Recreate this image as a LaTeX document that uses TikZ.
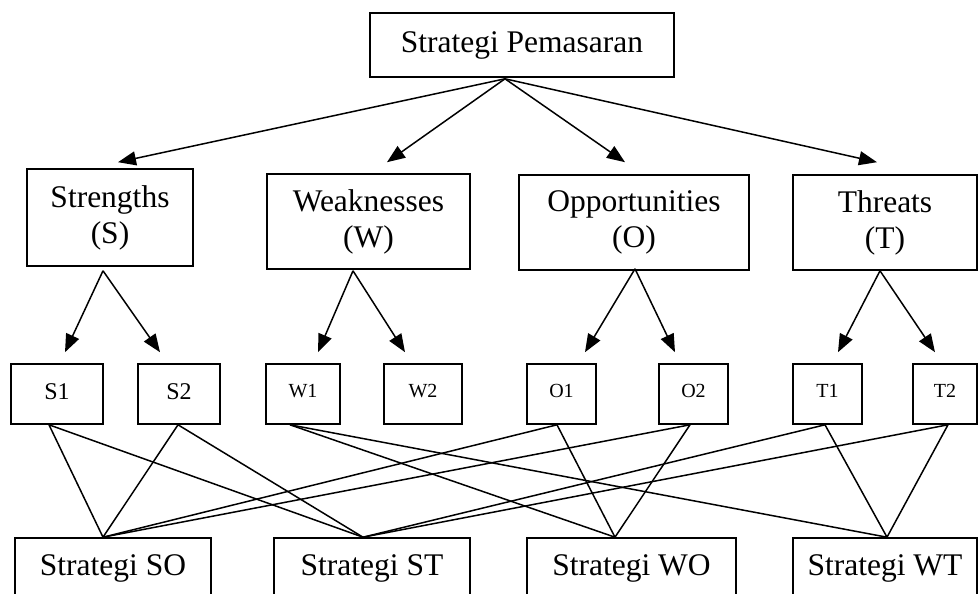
\documentclass[tikz,border=0pt]{standalone}
\usepackage{fontspec}
\setmainfont{Liberation Serif}
\usetikzlibrary{arrows.meta}
\begin{document}
\begin{tikzpicture}[x=1pt,y=-1pt,
  box/.style={draw, line width=1.6pt, rectangle, inner sep=0pt, align=center,
    font=\fontsize{31.5}{36}\selectfont},
  smallbox/.style={draw, line width=1.6pt, rectangle, inner sep=0pt,
    minimum height=60pt, font=\fontsize{20}{24}\selectfont},
  arr/.style={line width=1.5pt, -{Triangle[length=18pt,width=14pt]}},
  link/.style={line width=1.5pt}]
\useasboundingbox (0,0) rectangle (978,594);
% top
\node[box, minimum width=304pt, minimum height=64pt] (top) at (522,45) {Strategi Pemasaran};
% level 2
\node[box, minimum width=166pt, minimum height=97pt] (Sb) at (110,217.5) {Strengths\\(S)};
\node[box, minimum width=203pt, minimum height=95pt] (Wb) at (368.5,221.5) {Weaknesses\\(W)};
\node[box, minimum width=230pt, minimum height=95pt] (Ob) at (634,222.5) {Opportunities\\(O)};
\node[box, minimum width=184pt, minimum height=95pt] (Tb) at (885,222.5) {Threats\\(T)};
% level 3
\node[smallbox, minimum width=92pt, font=\fontsize{24}{28}\selectfont] (S1) at (57,394) {\raisebox{4pt}{S1}};
\node[smallbox, minimum width=82pt, font=\fontsize{24}{28}\selectfont] (S2) at (179,394) {\raisebox{4pt}{S2}};
\node[smallbox, minimum width=74pt] (W1) at (303,394) {\raisebox{6pt}{W1}};
\node[smallbox, minimum width=78pt] (W2) at (423,394) {\raisebox{6pt}{W2}};
\node[smallbox, minimum width=69pt] (O1) at (561.5,394) {\raisebox{6pt}{O1}};
\node[smallbox, minimum width=69pt] (O2) at (693.5,394) {\raisebox{6pt}{O2}};
\node[smallbox, minimum width=69pt] (T1) at (827.5,394) {\raisebox{6pt}{T1}};
\node[smallbox, minimum width=64pt] (T2) at (945,394) {\raisebox{6pt}{T2}};
% bottom (lower edge runs off the picture)
\node[box, minimum width=196pt, minimum height=60pt] (SO) at (113,568) {\raisebox{2pt}{Strategi SO}};
\node[box, minimum width=196pt, minimum height=60pt] (ST) at (372,568) {\raisebox{2pt}{Strategi ST}};
\node[box, minimum width=209pt, minimum height=60pt] (WO) at (631.5,568) {\raisebox{2pt}{Strategi WO}};
\node[box, minimum width=184pt, minimum height=60pt] (WT) at (885,568) {\raisebox{2pt}{Strategi WT}};
% coordinates
\coordinate (apex) at ([xshift=-17pt,yshift=-1pt]top.south);
\coordinate (tS) at ([xshift=8pt,yshift=6pt]Sb.north);
\coordinate (tW) at ([xshift=18.5pt,yshift=11pt]Wb.north);
\coordinate (tO) at ([xshift=-9pt,yshift=12pt]Ob.north);
\coordinate (tT) at ([xshift=-8pt,yshift=12pt]Tb.north);
\coordinate (aS) at ([xshift=-7pt,yshift=-4pt]Sb.south);
\coordinate (aW) at ([xshift=-15.5pt,yshift=-1pt]Wb.south);
\coordinate (aO) at ([xshift=1pt,yshift=2pt]Ob.south);
\coordinate (aT) at ([xshift=-5pt]Tb.south);
\coordinate (tS1) at ([xshift=8pt,yshift=11pt]S1.north);
\coordinate (tS2) at ([xshift=-19pt,yshift=11pt]S2.north);
\coordinate (tW1) at ([xshift=15pt,yshift=11pt]W1.north);
\coordinate (tW2) at ([xshift=-18pt,yshift=11pt]W2.north);
\coordinate (tO1) at ([xshift=23.5pt,yshift=11pt]O1.north);
\coordinate (tO2) at ([xshift=-18.5pt,yshift=11pt]O2.north);
\coordinate (tT1) at ([xshift=10.5pt,yshift=11pt]T1.north);
\coordinate (tT2) at ([xshift=-10pt,yshift=11pt]T2.north);
\coordinate (bS1) at ([xshift=-8pt]S1.south);
\coordinate (bS2) at ([xshift=-1pt]S2.south);
\coordinate (bW1) at ([xshift=-13pt]W1.south);
\coordinate (bO1) at ([xshift=-4.5pt]O1.south);
\coordinate (bO2) at ([xshift=-3.5pt]O2.south);
\coordinate (bT1) at ([xshift=-2.5pt]T1.south);
\coordinate (bT2) at ([xshift=3pt]T2.south);
\coordinate (nSO) at ([xshift=-10pt]SO.north);
\coordinate (nST) at ([xshift=-9pt]ST.north);
\coordinate (nWO) at ([xshift=-16.5pt]WO.north);
\coordinate (nWT) at ([xshift=2pt]WT.north);
% arrows
\draw[arr] (apex) -- (tS);
\draw[arr] (apex) -- (tW);
\draw[arr] (apex) -- (tO);
\draw[arr] (apex) -- (tT);
\draw[arr] (aS) -- (tS1);
\draw[arr] (aS) -- (tS2);
\draw[arr] (aW) -- (tW1);
\draw[arr] (aW) -- (tW2);
\draw[arr] (aO) -- (tO1);
\draw[arr] (aO) -- (tO2);
\draw[arr] (aT) -- (tT1);
\draw[arr] (aT) -- (tT2);
% links
\draw[link] (bS1) -- (nSO);
\draw[link] (bS1) -- (nST);
\draw[link] (bS2) -- (nSO);
\draw[link] (bS2) -- (nST);
\draw[link] (bW1) -- (nWO);
\draw[link] (bW1) -- (nWT);
\draw[link] (bO1) -- (nSO);
\draw[link] (bO1) -- (nWO);
\draw[link] (bO2) -- (nSO);
\draw[link] (bO2) -- (nWO);
\draw[link] (bT1) -- (nST);
\draw[link] (bT1) -- (nWT);
\draw[link] (bT2) -- (nST);
\draw[link] (bT2) -- (nWT);
\end{tikzpicture}
\end{document}
